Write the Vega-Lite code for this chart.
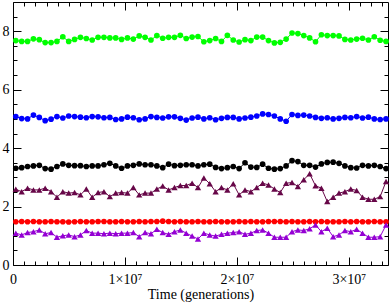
{
"$schema": "https://vega.github.io/schema/vega-lite/v6.json",
"width": 375, "height": 263,
"autosize": "none",
"padding": {"left": 13, "top": 2, "right": 2, "bottom": 40},
"config": {"view": {"stroke": "black", "strokeWidth": 1}, "font": "Liberation Serif", "axis": {"labelColor": "black", "titleColor": "black", "domain": false, "grid": false, "labelOverlap": false, "labelFlush": false, "ticks": true, "tickColor": "black", "tickWidth": 1, "tickOpacity": 1}},
"data": {"values": [
{"t":250000,"g":7.68,"b":5.08,"k":3.31,"m":2.59,"r":1.48,"p":1.09},
{"t":775000,"g":7.65,"b":5.01,"k":3.33,"m":2.51,"r":1.49,"p":1.03},
{"t":1300000,"g":7.65,"b":5.00,"k":3.37,"m":2.63,"r":1.48,"p":1.11},
{"t":1825000,"g":7.74,"b":5.13,"k":3.39,"m":2.57,"r":1.49,"p":1.14},
{"t":2350000,"g":7.71,"b":5.05,"k":3.41,"m":2.57,"r":1.48,"p":1.20},
{"t":2875000,"g":7.61,"b":4.94,"k":3.30,"m":2.63,"r":1.48,"p":1.07},
{"t":3400000,"g":7.61,"b":4.99,"k":3.28,"m":2.51,"r":1.49,"p":1.11},
{"t":3925000,"g":7.65,"b":5.08,"k":3.37,"m":2.32,"r":1.48,"p":0.95},
{"t":4450000,"g":7.81,"b":5.03,"k":3.46,"m":2.51,"r":1.48,"p":1.00},
{"t":4975000,"g":7.65,"b":5.10,"k":3.41,"m":2.46,"r":1.47,"p":1.03},
{"t":5500000,"g":7.72,"b":5.08,"k":3.40,"m":2.48,"r":1.48,"p":0.97},
{"t":6025000,"g":7.79,"b":5.06,"k":3.40,"m":2.40,"r":1.49,"p":1.03},
{"t":6550000,"g":7.75,"b":5.04,"k":3.37,"m":2.60,"r":1.48,"p":1.18},
{"t":7075000,"g":7.70,"b":5.08,"k":3.39,"m":2.32,"r":1.48,"p":1.09},
{"t":7600000,"g":7.79,"b":5.07,"k":3.39,"m":2.48,"r":1.49,"p":1.09},
{"t":8125000,"g":7.79,"b":5.04,"k":3.43,"m":2.51,"r":1.49,"p":1.07},
{"t":8650000,"g":7.77,"b":5.05,"k":3.48,"m":2.34,"r":1.48,"p":1.09},
{"t":9175000,"g":7.77,"b":4.98,"k":3.39,"m":2.46,"r":1.48,"p":1.07},
{"t":9700000,"g":7.72,"b":5.00,"k":3.31,"m":2.48,"r":1.49,"p":1.09},
{"t":10225000,"g":7.77,"b":5.06,"k":3.39,"m":2.46,"r":1.48,"p":1.09},
{"t":10750000,"g":7.73,"b":5.04,"k":3.41,"m":2.65,"r":1.48,"p":1.11},
{"t":11275000,"g":7.84,"b":4.97,"k":3.46,"m":2.40,"r":1.49,"p":0.97},
{"t":11800000,"g":7.79,"b":5.00,"k":3.43,"m":2.46,"r":1.48,"p":1.11},
{"t":12325000,"g":7.70,"b":5.08,"k":3.43,"m":2.46,"r":1.49,"p":1.07},
{"t":12850000,"g":7.85,"b":5.05,"k":3.39,"m":2.60,"r":1.49,"p":1.22},
{"t":13375000,"g":7.76,"b":5.03,"k":3.33,"m":2.70,"r":1.50,"p":1.11},
{"t":13900000,"g":7.79,"b":5.07,"k":3.45,"m":2.57,"r":1.49,"p":1.05},
{"t":14425000,"g":7.79,"b":5.07,"k":3.40,"m":2.65,"r":1.48,"p":1.14},
{"t":14950000,"g":7.86,"b":5.02,"k":3.41,"m":2.72,"r":1.49,"p":1.20},
{"t":15475000,"g":7.75,"b":4.96,"k":3.43,"m":2.72,"r":1.48,"p":1.09},
{"t":16000000,"g":7.80,"b":5.03,"k":3.43,"m":2.80,"r":1.48,"p":0.99},
{"t":16525000,"g":7.82,"b":5.06,"k":3.39,"m":2.65,"r":1.49,"p":0.89},
{"t":17050000,"g":7.64,"b":5.00,"k":3.43,"m":2.98,"r":1.48,"p":1.09},
{"t":17575000,"g":7.68,"b":5.04,"k":3.45,"m":2.78,"r":1.48,"p":1.03},
{"t":18100000,"g":7.75,"b":4.97,"k":3.34,"m":2.51,"r":1.49,"p":0.99},
{"t":18625000,"g":7.65,"b":5.02,"k":3.30,"m":2.65,"r":1.48,"p":1.05},
{"t":19150000,"g":7.86,"b":5.05,"k":3.33,"m":2.57,"r":1.48,"p":1.09},
{"t":19675000,"g":7.70,"b":5.05,"k":3.37,"m":2.78,"r":1.48,"p":1.11},
{"t":20200000,"g":7.63,"b":5.00,"k":3.30,"m":2.40,"r":1.49,"p":1.14},
{"t":20725000,"g":7.71,"b":5.03,"k":3.50,"m":2.57,"r":1.48,"p":1.05},
{"t":21250000,"g":7.68,"b":5.06,"k":3.35,"m":2.51,"r":1.49,"p":1.09},
{"t":21775000,"g":7.80,"b":5.10,"k":3.34,"m":2.65,"r":1.48,"p":1.18},
{"t":22300000,"g":7.80,"b":5.17,"k":3.45,"m":2.80,"r":1.48,"p":1.20},
{"t":22825000,"g":7.68,"b":5.15,"k":3.31,"m":2.74,"r":1.49,"p":1.09},
{"t":23350000,"g":7.60,"b":5.10,"k":3.28,"m":2.60,"r":1.49,"p":0.95},
{"t":23875000,"g":7.62,"b":5.00,"k":3.30,"m":2.48,"r":1.49,"p":0.95},
{"t":24400000,"g":7.73,"b":4.92,"k":3.39,"m":2.80,"r":1.48,"p":0.95},
{"t":24925000,"g":7.94,"b":5.15,"k":3.57,"m":2.82,"r":1.49,"p":1.14},
{"t":25450000,"g":7.92,"b":5.12,"k":3.54,"m":2.69,"r":1.48,"p":1.20},
{"t":25975000,"g":7.85,"b":5.13,"k":3.41,"m":2.92,"r":1.48,"p":1.18},
{"t":26500000,"g":7.77,"b":5.10,"k":3.41,"m":3.12,"r":1.49,"p":1.24},
{"t":27025000,"g":7.64,"b":5.05,"k":3.35,"m":2.71,"r":1.48,"p":1.37},
{"t":27550000,"g":7.88,"b":5.02,"k":3.46,"m":2.63,"r":1.49,"p":1.14},
{"t":28075000,"g":7.85,"b":5.04,"k":3.51,"m":2.17,"r":1.48,"p":1.26},
{"t":28600000,"g":7.85,"b":5.00,"k":3.52,"m":2.32,"r":1.48,"p":0.97},
{"t":29125000,"g":7.84,"b":5.02,"k":3.48,"m":2.46,"r":1.48,"p":1.03},
{"t":29650000,"g":7.72,"b":5.05,"k":3.39,"m":2.51,"r":1.49,"p":1.18},
{"t":30175000,"g":7.70,"b":5.04,"k":3.33,"m":2.60,"r":1.48,"p":1.14},
{"t":30700000,"g":7.73,"b":5.08,"k":3.32,"m":2.55,"r":1.49,"p":1.22},
{"t":31225000,"g":7.76,"b":5.03,"k":3.41,"m":2.32,"r":1.48,"p":1.09},
{"t":31750000,"g":7.70,"b":5.06,"k":3.39,"m":2.25,"r":1.48,"p":0.95},
{"t":32275000,"g":7.81,"b":5.00,"k":3.41,"m":2.25,"r":1.49,"p":0.95},
{"t":32800000,"g":7.69,"b":4.98,"k":3.37,"m":2.34,"r":1.48,"p":0.97},
{"t":33325000,"g":7.65,"b":5.00,"k":3.30,"m":2.86,"r":1.48,"p":1.37}
]},
"transform": [{"fold": ["g","b","k","m","r","p"], "as": ["s","v"]}],
"layer": [
{
"mark": {"type": "line", "strokeWidth": 1, "clip": true},
"encoding": {
"x": {"field": "t", "type": "quantitative", "scale": {"domain": [0, 33500000], "nice": false, "zero": false},
"axis": {"orient": "bottom", "values": [0, 10000000, 20000000, 30000000], "offset": -8, "tickSize": 8,
"labelExpr": "datum.value == 0 ? '0' : format(datum.value / 1e7, 'd') + '×10⁷'",
"labelFontSize": 14, "labelPadding": 7, "title": "Time (generations)", "titleFontSize": 14, "titleFontWeight": "normal", "titlePadding": 1}},
"y": {"field": "v", "type": "quantitative", "scale": {"domain": [0, 9], "nice": false},
"axis": {"orient": "left", "values": [0, 2, 4, 6, 8], "offset": -8, "tickSize": 8,
"labelFontSize": 14, "labelPadding": 4, "title": null}},
"color": {"field": "s", "type": "nominal", "scale": {"domain": ["g","b","k","m","r","p"], "range": ["#00ff00","#0000ff","#000000","#670748","#ff0000","#9400d3"]}, "legend": null}
}
},
{
"transform": [{"filter": {"field": "s", "oneOf": ["g","b","k","r"]}}],
"mark": {"type": "point", "shape": "circle", "filled": true, "size": 32, "opacity": 1},
"encoding": {
"x": {"field": "t", "type": "quantitative", "axis": {"orient": "top", "values": [0, 10000000, 20000000, 30000000], "offset": -8, "tickSize": 8, "labels": false, "title": null}},
"y": {"field": "v", "type": "quantitative", "axis": {"orient": "right", "values": [0, 2, 4, 6, 8], "offset": -8, "tickSize": 8, "labels": false, "title": null}},
"color": {"field": "s", "type": "nominal", "legend": null}
}
},
{
"transform": [{"filter": {"field": "s", "oneOf": ["m","p"]}}],
"mark": {"type": "point", "shape": "triangle-up", "filled": true, "size": 40, "opacity": 1},
"encoding": {
"x": {"field": "t", "type": "quantitative", "axis": {"orient": "bottom", "values": [1000000,2000000,3000000,4000000,5000000,6000000,7000000,8000000,9000000,11000000,12000000,13000000,14000000,15000000,16000000,17000000,18000000,19000000,21000000,22000000,23000000,24000000,25000000,26000000,27000000,28000000,29000000,31000000,32000000,33000000], "offset": -4, "tickSize": 4, "labels": false, "title": null}},
"y": {"field": "v", "type": "quantitative", "axis": {"orient": "left", "values": [0.5,1,1.5,2.5,3,3.5,4.5,5,5.5,6.5,7,7.5,8.5], "offset": -4, "tickSize": 4, "labels": false, "title": null}},
"color": {"field": "s", "type": "nominal", "legend": null}
}
},
{
"mark": {"type": "point", "opacity": 0},
"encoding": {
"x": {"field": "t", "type": "quantitative", "axis": {"orient": "top", "values": [1000000,2000000,3000000,4000000,5000000,6000000,7000000,8000000,9000000,11000000,12000000,13000000,14000000,15000000,16000000,17000000,18000000,19000000,21000000,22000000,23000000,24000000,25000000,26000000,27000000,28000000,29000000,31000000,32000000,33000000], "offset": -4, "tickSize": 4, "labels": false, "title": null}},
"y": {"field": "v", "type": "quantitative", "axis": {"orient": "right", "values": [0.5,1,1.5,2.5,3,3.5,4.5,5,5.5,6.5,7,7.5,8.5], "offset": -4, "tickSize": 4, "labels": false, "title": null}}
}
}
],
"resolve": {"axis": {"x": "independent", "y": "independent"}}
}
